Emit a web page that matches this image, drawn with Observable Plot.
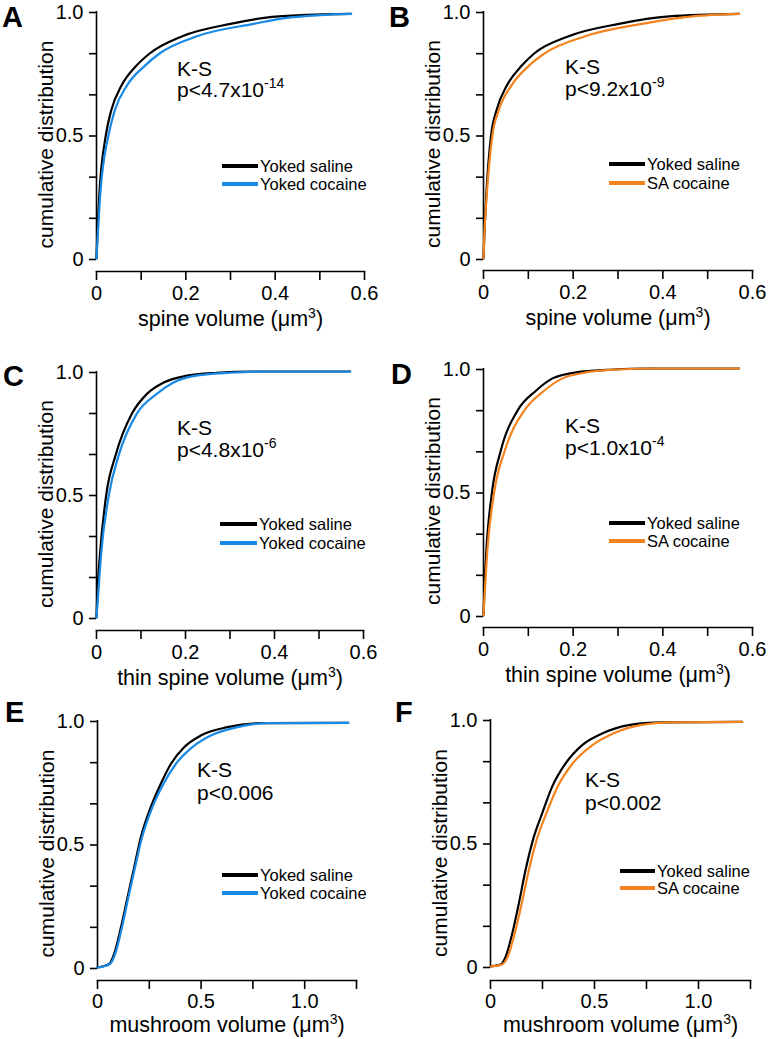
<!DOCTYPE html>
<html>
<head>
<meta charset="utf-8">
<script src="https://cdn.jsdelivr.net/npm/d3@7"></script>
<script src="https://cdn.jsdelivr.net/npm/@observablehq/plot@0.6"></script>
<style>
  body { margin: 0; background: #fff; }
  #fig { position: relative; width: 770px; height: 1039px; overflow: hidden; background: #fff; }
  .panel { position: absolute; }
</style>
</head>
<body>
<div id="fig"></div>
<script>
const FONT = "'Liberation Sans', Arial, Helvetica, sans-serif";

// ---------- tick values & labels ----------
const yTicks = [0, 1/6, 2/6, 0.5, 4/6, 5/6, 1];
const yTickLabels = ["0", "", "", "0.5", "", "", "1.0"];
const spineTicks = [0, 0.1, 0.2, 0.3, 0.4, 0.5, 0.6];
const spineTickLabels = ["0", "", "0.2", "", "0.4", "", "0.6"];
const mushTicks = [0, 0.25, 0.5, 0.75, 1.0, 1.25];
const mushTickLabels = ["0", "", "0.5", "", "1.0", ""];

// ---------- texts ----------
const panelLetters = ["A", "B", "C", "D", "E", "F"];
const xLabels = ["spine volume (μm³)", "spine volume (μm³)", "thin spine volume (μm³)",
                 "thin spine volume (μm³)", "mushroom volume (μm³)", "mushroom volume (μm³)"];
const yLabel = "cumulative distribution";
const controlName = "Yoked saline";
const drugNames = ["Yoked cocaine", "SA cocaine", "Yoked cocaine", "SA cocaine", "Yoked cocaine", "SA cocaine"];
const testName = "K-S";
const pText = ["p<4.7x10", "p<9.2x10", "p<4.8x10", "p<1.0x10", "p<0.006", "p<0.002"];
const pSup = ["-14", "-9", "-6", "-4", "", ""];

// ---------- series (cumulative level, x value) ----------
// A: spine volume, yoked saline vs yoked cocaine
const aLevels    = [0, 0.1, 0.25, 0.5, 0.6, 0.7, 0.78, 0.83, 0.9, 0.95, 0.975, 0.985, 0.99];
const aSalineX   = [0, 0.002, 0.006, 0.021, 0.033, 0.056, 0.089, 0.119, 0.192, 0.300, 0.380, 0.460, 0.570];
const aCocaineX  = [0, 0.003, 0.008, 0.027, 0.041, 0.068, 0.108, 0.141, 0.225, 0.352, 0.430, 0.500, 0.570];
// B: spine volume, yoked saline vs SA cocaine
const bLevels    = [0, 0.1, 0.25, 0.5, 0.6, 0.7, 0.78, 0.83, 0.9, 0.95, 0.98, 0.99];
const bSalineX   = [0, 0.002, 0.006, 0.017, 0.029, 0.052, 0.085, 0.113, 0.190, 0.302, 0.414, 0.570];
const bCocaineX  = [0, 0.002, 0.007, 0.020, 0.034, 0.062, 0.101, 0.136, 0.227, 0.354, 0.466, 0.570];
// C: thin spine volume, yoked saline vs yoked cocaine
const cLevels    = [0, 0.1, 0.25, 0.5, 0.66, 0.83, 0.91, 0.955, 0.982, 0.995, 1.0, 1.0];
const cSalineX   = [0, 0.002, 0.0075, 0.022, 0.043, 0.080, 0.114, 0.151, 0.200, 0.270, 0.350, 0.570];
const cCocaineX  = [0, 0.004, 0.010, 0.028, 0.050, 0.091, 0.136, 0.173, 0.220, 0.300, 0.380, 0.570];
// D: thin spine volume, yoked saline vs SA cocaine
const dLevels    = [0, 0.1, 0.25, 0.5, 0.67, 0.83, 0.91, 0.96, 0.986, 0.996, 1.0, 1.0];
const dSalineX   = [0, 0.002, 0.006, 0.019, 0.039, 0.076, 0.117, 0.154, 0.213, 0.290, 0.360, 0.570];
const dCocaineX  = [0, 0.003, 0.008, 0.024, 0.048, 0.091, 0.135, 0.176, 0.236, 0.300, 0.380, 0.570];
// E: mushroom volume, yoked saline vs yoked cocaine
const eLevels    = [0, 0.014, 0.054, 0.162, 0.284, 0.405, 0.527, 0.649, 0.743, 0.824, 0.892, 0.939, 0.973, 0.989, 0.99];
const eSalineX   = [0, 0.056, 0.080, 0.113, 0.145, 0.177, 0.209, 0.257, 0.305, 0.354, 0.418, 0.498, 0.627, 0.788, 1.21];
const eCocaineX  = [0, 0.060, 0.085, 0.118, 0.149, 0.181, 0.215, 0.265, 0.318, 0.378, 0.458, 0.547, 0.675, 0.820, 1.21];
// F: mushroom volume, yoked saline vs SA cocaine
const fLevels    = [0, 0.008, 0.038, 0.132, 0.254, 0.389, 0.524, 0.619, 0.727, 0.822, 0.896, 0.943, 0.977, 0.988, 0.99];
const fSalineX   = [0, 0.048, 0.072, 0.104, 0.136, 0.168, 0.208, 0.248, 0.296, 0.361, 0.441, 0.537, 0.665, 0.825, 1.21];
const fCocaineX  = [0, 0.055, 0.082, 0.116, 0.150, 0.184, 0.226, 0.268, 0.322, 0.395, 0.490, 0.590, 0.720, 0.870, 1.21];

const BLUE = "#1789e6";
const ORANGE = "#f4831f";

const panels = [
  {levels: aLevels, salineX: aSalineX, drugX: aCocaineX, color: BLUE,   ticks: spineTicks, tickLabels: spineTickLabels, xDomain: [0, 0.6]},
  {levels: bLevels, salineX: bSalineX, drugX: bCocaineX, color: ORANGE, ticks: spineTicks, tickLabels: spineTickLabels, xDomain: [0, 0.6]},
  {levels: cLevels, salineX: cSalineX, drugX: cCocaineX, color: BLUE,   ticks: spineTicks, tickLabels: spineTickLabels, xDomain: [0, 0.6]},
  {levels: dLevels, salineX: dSalineX, drugX: dCocaineX, color: ORANGE, ticks: spineTicks, tickLabels: spineTickLabels, xDomain: [0, 0.6]},
  {levels: eLevels, salineX: eSalineX, drugX: eCocaineX, color: BLUE,   ticks: mushTicks,  tickLabels: mushTickLabels,  xDomain: [0, 1.25]},
  {levels: fLevels, salineX: fSalineX, drugX: fCocaineX, color: ORANGE, ticks: mushTicks,  tickLabels: mushTickLabels,  xDomain: [0, 1.25]}
];

// ---------- layout (page pixels) ----------
const layout = [
  {left: 0,   top: 0,   h: 340, ml: 96,  mr: 21, mt: 11, mb: 69, inset: 13, xlabDy: 54, xPad: 5},
  {left: 385, top: 0,   h: 340, ml: 98,  mr: 18, mt: 11, mb: 70, inset: 12, xlabDy: 54, xPad: 5},
  {left: 0,   top: 340, h: 340, ml: 96,  mr: 22, mt: 31, mb: 50, inset: 13, xlabDy: 54, xPad: 5},
  {left: 385, top: 340, h: 340, ml: 98,  mr: 18, mt: 28, mb: 53, inset: 12, xlabDy: 54, xPad: 5},
  {left: 0,   top: 680, h: 359, ml: 97,  mr: 29, mt: 40, mb: 59, inset: 13, xlabDy: 51, xPad: 4},
  {left: 385, top: 680, h: 359, ml: 105, mr: 20, mt: 39, mb: 59, inset: 14, xlabDy: 51, xPad: 4}
];
const letterPos = [[2, 27], [389, 27], [3, 386], [391, 384], [5, 722], [395, 722]];
const ksPos = [[177, 76, 97], [565, 74, 96], [177, 435, 457], [565, 433, 455], [197, 777, 800], [585, 787, 810]];
const legendPos = [
  {x1: 222, x2: 258, y1: 166, y2: 184},
  {x1: 609, x2: 645, y1: 164, y2: 183},
  {x1: 220, x2: 257, y1: 524, y2: 543},
  {x1: 609, x2: 645, y1: 523, y2: 541},
  {x1: 222, x2: 258, y1: 875, y2: 893},
  {x1: 620, x2: 655, y1: 871, y2: 888}
];

const fig = document.getElementById("fig");

panels.forEach((p, i) => {
  const L = layout[i];
  const saline = p.salineX.map((x, j) => ({x, y: p.levels[j]}));
  const drug = p.drugX.map((x, j) => ({x, y: p.levels[j]}));
  const yFmt = new Map(yTicks.map((t, j) => [t, yTickLabels[j]]));
  const xFmt = new Map(p.ticks.map((t, j) => [t, p.tickLabels[j]]));
  const chart = Plot.plot({
    width: 385,
    height: L.h,
    marginLeft: L.ml, marginRight: L.mr, marginTop: L.mt, marginBottom: L.mb,
    style: {background: "transparent", fontFamily: FONT, color: "#000", overflow: "visible"},
    x: {domain: p.xDomain},
    y: {domain: [0, 1], insetBottom: L.inset},
    marks: [
      Plot.axisY({ticks: yTicks, tickFormat: d => yFmt.get(d), tickSize: 7, tickPadding: 6,
                  fontSize: 20, strokeWidth: 1.6, label: null, dy: 1}),
      Plot.axisX({ticks: p.ticks, tickFormat: d => xFmt.get(d), tickSize: 9, tickPadding: L.xPad,
                  fontSize: 20, strokeWidth: 1.6, label: null}),
      Plot.ruleX([0], {y1: 0, y2: 1, stroke: "#000", strokeWidth: 1.6}),
      Plot.frame({anchor: "bottom", stroke: "#000", strokeWidth: 1.6}),
      Plot.line(saline, {x: "x", y: "y", stroke: "#000", strokeWidth: 2.2, curve: "monotone-x"}),
      Plot.line(drug, {x: "x", y: "y", stroke: p.color, strokeWidth: 2.2, curve: "monotone-x"}),
      Plot.text([xLabels[i]], {frameAnchor: "bottom", textAnchor: "middle", lineAnchor: "bottom",
                               dy: L.xlabDy, fontSize: 21.5, fill: "#000"}),
      Plot.text([yLabel], {frameAnchor: "left", textAnchor: "middle", lineAnchor: "middle",
                           rotate: -90, dx: -50, dy: 3, fontSize: 21, fill: "#000"})
    ]
  });
  // render the unit's exponent as a true superscript
  d3.select(chart).selectAll("text")
    .filter(function () { return this.textContent === xLabels[i]; })
    .each(function () {
      const [before, after] = xLabels[i].split("³");
      const t = d3.select(this);
      t.text(null);
      t.append("tspan").text(before);
      t.append("tspan").attr("dy", -8).attr("font-size", 14).text("3");
      t.append("tspan").attr("dy", 8).text(after);
    });
  chart.classList.add("panel");
  chart.style.left = L.left + "px";
  chart.style.top = L.top + "px";
  fig.appendChild(chart);
});

// ---------- overlay: panel letters, K-S annotations, legends ----------
const ov = d3.select(fig).append("svg")
  .attr("width", 770).attr("height", 1039)
  .style("position", "absolute").style("left", "0px").style("top", "0px")
  .style("pointer-events", "none")
  .style("font-family", FONT);

panels.forEach((p, i) => {
  ov.append("text").attr("x", letterPos[i][0]).attr("y", letterPos[i][1])
    .attr("font-size", 29).attr("font-weight", "bold").text(panelLetters[i]);

  const [kx, ky1, ky2] = ksPos[i];
  ov.append("text").attr("x", kx).attr("y", ky1).attr("font-size", 21).text(testName);
  const t = ov.append("text").attr("x", kx).attr("y", ky2).attr("font-size", 21);
  t.append("tspan").text(pText[i]);
  if (pSup[i]) t.append("tspan").attr("dy", -9).attr("font-size", 14).text(pSup[i]);

  const lg = legendPos[i];
  ov.append("line").attr("x1", lg.x1).attr("x2", lg.x2).attr("y1", lg.y1).attr("y2", lg.y1)
    .attr("stroke", "#000").attr("stroke-width", 4);
  ov.append("line").attr("x1", lg.x1).attr("x2", lg.x2).attr("y1", lg.y2).attr("y2", lg.y2)
    .attr("stroke", p.color).attr("stroke-width", 4);
  ov.append("text").attr("x", lg.x2 + 2).attr("y", lg.y1 + 6).attr("font-size", 16.5).text(controlName);
  ov.append("text").attr("x", lg.x2 + 2).attr("y", lg.y2 + 6).attr("font-size", 16.5).text(drugNames[i]);
});
</script>
</body>
</html>
